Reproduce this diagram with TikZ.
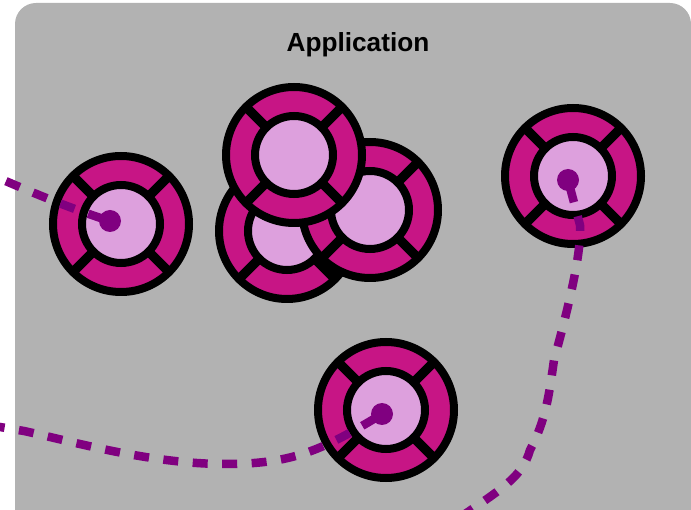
\documentclass[tikz,border=0pt]{standalone}
\usepackage{fontspec}
\setmainfont{Liberation Sans}
\definecolor{panelgray}{HTML}{B2B2B2}
\definecolor{ringpink}{HTML}{C71585}
\definecolor{corelight}{HTML}{DDA0DD}
\definecolor{linkpurple}{HTML}{800080}
\tikzset{
  x=1pt,y=-1pt,
  ringline/.style={draw=black,line width=8pt},
  spoke/.style={draw=black,line width=9.5pt,line cap=butt},
  dot/.style={circle,fill=linkpurple,draw=none,minimum size=22pt,inner sep=0pt},
  link/.style={draw=linkpurple,line width=8.5pt,dash pattern=on 15pt off 14.5pt,dash phase=21.5pt},
  title/.style={font=\fontsize{26.2}{30}\selectfont\bfseries,text=black,inner sep=0pt},
  panel/.style={fill=panelgray,draw=none,rounded corners=21pt},
  ring/.pic={
    \path[ringline,fill=ringpink] (0,0) circle[radius=68pt];
    \foreach \a in {45,135,225,315}
      \draw[spoke] (\a:-39pt) -- (\a:-68pt);
    \path[ringline,fill=corelight] (0,0) circle[radius=39pt];
  }
}
\begin{document}
\begin{tikzpicture}
\useasboundingbox (0,0) rectangle (691,510);
\fill[panel] (15,3) rectangle (691,532);
\clip (0,0) rectangle (691,510);
\node[title] (apptitle) at (358,45) {Application};
\pic at (121,224) {ring};
\pic at (287,231) {ring};
\pic at (370,210) {ring};
\pic at (294,155) {ring};
\pic at (573,176) {ring};
\pic at (386,410) {ring};
\node[dot] (dotA) at (110,221) {};
\node[dot] (dotB) at (568,180) {};
\node[dot] (dotC) at (382,414) {};
\coordinate (endA) at (-6,176);
\coordinate (endB) at (462,516);
\coordinate (endC) at (-6,426);
\draw[link] (dotA.center) .. controls (75,210) and (40,196) .. (endA);
\draw[link] (dotB.center) -- (580,225) .. controls (582,255) and (565,320) .. (554,360) .. controls (549,395) and (546,420) .. (530,450) .. controls (523,475) and (505,487) .. (endB);
\draw[link] (dotC.center) .. controls (320,452) and (290,464) .. (225,464) .. controls (150,464) and (70,441) .. (24,431) -- (endC);
\end{tikzpicture}
\end{document}
